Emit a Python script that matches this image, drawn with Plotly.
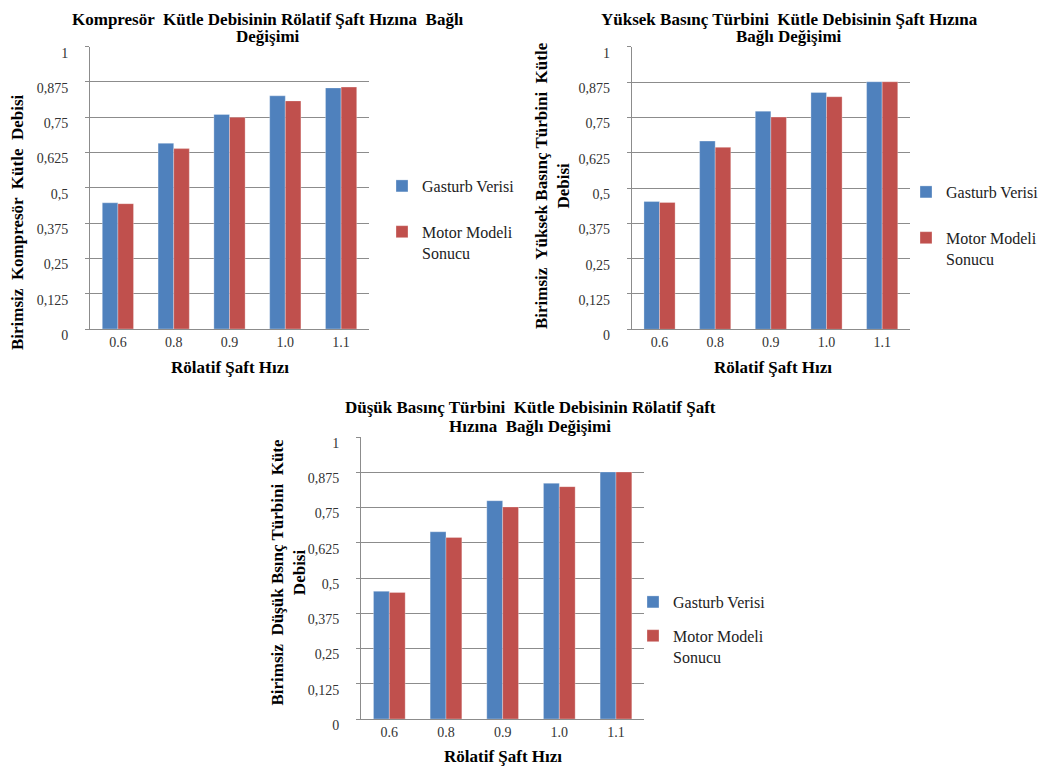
import plotly.graph_objects as go

# Data
speeds = ["0.6", "0.8", "0.9", "1.0", "1.1"]

komp_gasturb = [0.447, 0.658, 0.760, 0.826, 0.854]
komp_model = [0.444, 0.639, 0.750, 0.808, 0.857]

yb_gasturb = [0.452, 0.666, 0.772, 0.838, 0.876]
yb_model = [0.449, 0.644, 0.751, 0.823, 0.876]

db_gasturb = [0.453, 0.664, 0.774, 0.836, 0.876]
db_model = [0.449, 0.644, 0.752, 0.824, 0.876]

y_ticks = [0, 0.125, 0.25, 0.375, 0.5, 0.625, 0.75, 0.875, 1]
y_ticktext = ["0", "0,125", "0,25", "0,375", "0,5", "0,625", "0,75", "0,875", "1"]

BLUE = "#4f81bd"
RED = "#c0504d"
GRID = "#8c8c8c"
FONT = "Liberation Serif, Times New Roman, DejaVu Serif, serif"
W, H = 1053, 769


def px_x(x):
    return x / W


def px_y(y):
    return 1 - y / H


fig = go.Figure()

panels = [
    # (gasturb, model, xaxis, yaxis, legend, x-domain px, y-domain px)
    (komp_gasturb, komp_model, "x", "y", "legend", (90, 369), (46.7, 329)),
    (yb_gasturb, yb_model, "x2", "y2", "legend2", (631.7, 910), (46.7, 329.3)),
    (db_gasturb, db_model, "x3", "y3", "legend3", (361, 644.3), (437, 719)),
]

for i, (g, m, xa, ya, leg, xd, yd) in enumerate(panels):
    fig.add_trace(go.Bar(x=speeds, y=g, name="Gasturb Verisi", marker_color=BLUE,
                         marker_line=dict(color="rgba(255,255,255,0.5)", width=0.6),
                         xaxis=xa, yaxis=ya, legend=leg, legendgroup=f"g{i}"))
    fig.add_trace(go.Bar(x=speeds, y=m, name="Motor Modeli<br>Sonucu", marker_color=RED,
                         marker_line=dict(color="rgba(255,255,255,0.5)", width=0.6),
                         xaxis=xa, yaxis=ya, legend=leg, legendgroup=f"m{i}"))

    sfx = "" if i == 0 else str(i + 1)
    fig.update_layout({
        "xaxis" + sfx: dict(domain=[px_x(xd[0]), px_x(xd[1])], anchor=ya,
                            showline=True, linecolor=GRID, linewidth=1, ticks="",
                            tickfont=dict(family=FONT, size=14, color="#333"),
                            showgrid=False, automargin=False),
        "yaxis" + sfx: dict(domain=[px_y(yd[1]), px_y(yd[0])], anchor=xa,
                            range=[0, 1], tickvals=y_ticks, ticktext=y_ticktext,
                            showline=True, linecolor=GRID, linewidth=1,
                            showgrid=True, gridcolor=GRID, gridwidth=1, zeroline=False,
                            ticks="outside", ticklen=4, tickcolor=GRID,
                            ticklabelstandoff=14, ticklabelshift=6, automargin=False,
                            tickfont=dict(family=FONT, size=14, color="#333")),
    })

legend_style = dict(font=dict(family=FONT, size=16, color="#222"), bgcolor="rgba(0,0,0,0)",
                    valign="top", xanchor="left", yanchor="top")

fig.update_layout(
    width=W, height=H,
    paper_bgcolor="white", plot_bgcolor="white",
    margin=dict(l=0, r=0, t=0, b=0, autoexpand=False),
    barmode="group", bargap=0.44, bargroupgap=0,
    font=dict(family=FONT),
    legend=dict(x=px_x(382), y=px_y(169), tracegroupgap=22, **legend_style),
    legend2=dict(x=px_x(906), y=px_y(175), tracegroupgap=22, **legend_style),
    legend3=dict(x=px_x(633), y=px_y(585), tracegroupgap=10, **legend_style),
)

title_font = dict(family=FONT, size=17, color="black")
axis_font = dict(family=FONT, size=17, color="black")

# chart titles, one annotation per line (Excel uses tight line spacing)
titles = [
    ("<b>Kompresör  Kütle Debisinin Rölatif Şaft Hızına  Bağlı</b>", 268, 19),
    ("<b>Değişimi</b>", 268, 37),
    ("<b>Yüksek Basınç Türbini  Kütle Debisinin Şaft Hızına</b>", 789, 19),
    ("<b>Bağlı Değişimi</b>", 789, 37),
    ("<b>Düşük Basınç Türbini  Kütle Debisinin Rölatif Şaft</b>", 530, 407),
    ("<b>Hızına  Bağlı Değişimi</b>", 530, 426),
]
for text, x, y in titles:
    fig.add_annotation(text=text, x=px_x(x), y=px_y(y), xref="paper", yref="paper",
                       showarrow=False, font=title_font, xanchor="center", yanchor="middle")

x_titles = [(229.5, 367), (772.5, 367), (503.3, 756.7)]
for x, y in x_titles:
    fig.add_annotation(text="<b>Rölatif Şaft Hızı</b>", x=px_x(x), y=px_y(y),
                       xref="paper", yref="paper", showarrow=False, font=axis_font,
                       xanchor="center", yanchor="middle")

y_titles = [
    ("<b>Birimsiz  Kompresör  Kütle  Debisi</b>", 18, 222),
    ("<b>Birimsiz  Yüksek Basınç Türbini  Kütle<br>Debisi</b>", 552, 186),
    ("<b>Birimsiz  Düşük Bsınç Türbini  Küte<br>Debisi</b>", 288, 572.5),
]
for text, x, y in y_titles:
    fig.add_annotation(text=text, x=px_x(x), y=px_y(y), xref="paper", yref="paper",
                       showarrow=False, font=axis_font, textangle=-90,
                       xanchor="center", yanchor="middle")

fig.write_html("out.html", config={"displayModeBar": False},
               post_script="document.body.style.margin = '0';")
